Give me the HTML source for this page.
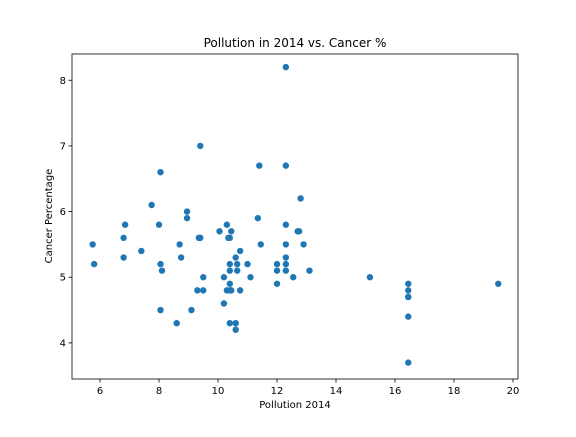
<!DOCTYPE html>
<html><head><meta charset="utf-8"><style>
body{margin:0;background:#fff;font-family:"Liberation Sans","DejaVu Sans",sans-serif}
svg text{font-family:"DejaVu Sans","Liberation Sans",sans-serif;fill:#000}
</style></head><body>
<svg id="chart" width="576" height="432" viewBox="0 0 576 432" xmlns="http://www.w3.org/2000/svg">
<rect width="576" height="432" fill="#fff"/>
<text x="295" y="47" font-size="12" text-anchor="middle">Pollution in 2014 vs. Cancer %</text>
<text x="295" y="408" font-size="10" text-anchor="middle">Pollution 2014</text>
<text transform="translate(52,216) rotate(-90)" font-size="10" text-anchor="middle">Cancer Percentage</text>
<g id="marks"></g>
<g id="axes"></g>
</svg>
<script>
const pollution = [5.75,5.8,6.8,6.85,6.8,7.4,7.75,8.05,8.0,8.05,8.1,8.05,8.6,8.7,8.75,8.95,8.95,9.1,9.3,9.4,9.35,9.4,9.5,9.5,10.05,10.2,10.2,10.3,10.45,10.35,10.4,10.4,10.4,10.4,10.3,10.4,10.45,10.4,10.6,10.6,10.6,10.65,10.65,10.75,10.75,11.0,11.1,11.35,11.4,11.45,12.0,12.0,12.0,12.3,12.3,12.3,12.3,12.3,12.3,12.3,12.55,12.7,12.75,12.8,12.9,13.1,15.15,16.45,16.45,16.45,16.45,16.45,16.45,19.5];
const cancer = [5.5,5.2,5.6,5.8,5.3,5.4,6.1,6.6,5.8,5.2,5.1,4.5,4.3,5.5,5.3,6.0,5.9,4.5,4.8,7.0,5.6,5.6,5.0,4.8,5.7,4.6,5.0,5.8,5.7,5.6,5.6,5.2,5.1,4.9,4.8,4.8,4.8,4.3,5.3,4.3,4.2,5.2,5.1,5.4,4.8,5.2,5.0,5.9,6.7,5.5,5.2,5.1,4.9,8.2,6.7,5.8,5.5,5.3,5.2,5.1,5.0,5.7,5.7,6.2,5.5,5.1,5.0,4.9,4.8,4.7,4.7,4.4,3.7,4.9];
const xTicks = [6,8,10,12,14,16,18,20];
const yTicks = [4,5,6,7,8];
const L=72,R=518,T=54,B=379;
const xMin=5.05,xMax=20.17,yMin=3.45,yMax=8.4;
const xs=v=>L+(v-xMin)/(xMax-xMin)*(R-L);
const ys=v=>B-(v-yMin)/(yMax-yMin)*(B-T);
const NS="http://www.w3.org/2000/svg";
const marks=document.getElementById('marks'), axes=document.getElementById('axes');
function mk(tag,attrs,parent){const e=document.createElementNS(NS,tag);for(const k in attrs)e.setAttribute(k,attrs[k]);parent.appendChild(e);return e;}
pollution.forEach((p,i)=>{
  const c=mk('circle',{cx:xs(p),cy:ys(cancer[i]),r:3.2,fill:'#1f77b4'},marks);
  
  
});
const frame=mk('rect',{x:L,y:T,width:R-L,height:B-T,fill:'none',stroke:'#000','stroke-width':0.8},axes);


xTicks.forEach(t=>{
  const x=xs(t);
  mk('line',{x1:x,x2:x,y1:B,y2:B+3.5,stroke:'#000','stroke-width':0.8},axes);
  const tx=mk('text',{x:x,y:B+15,'font-size':10,'text-anchor':'middle'},axes);
  tx.textContent=t;
  
  
});
yTicks.forEach(t=>{
  const y=ys(t);
  mk('line',{x1:L-3.5,x2:L,y1:y,y2:y,stroke:'#000','stroke-width':0.8},axes);
  const tx=mk('text',{x:L-6,y:y+3.5,'font-size':10,'text-anchor':'end'},axes);
  tx.textContent=t;
  
  
});
</script>
</body></html>
